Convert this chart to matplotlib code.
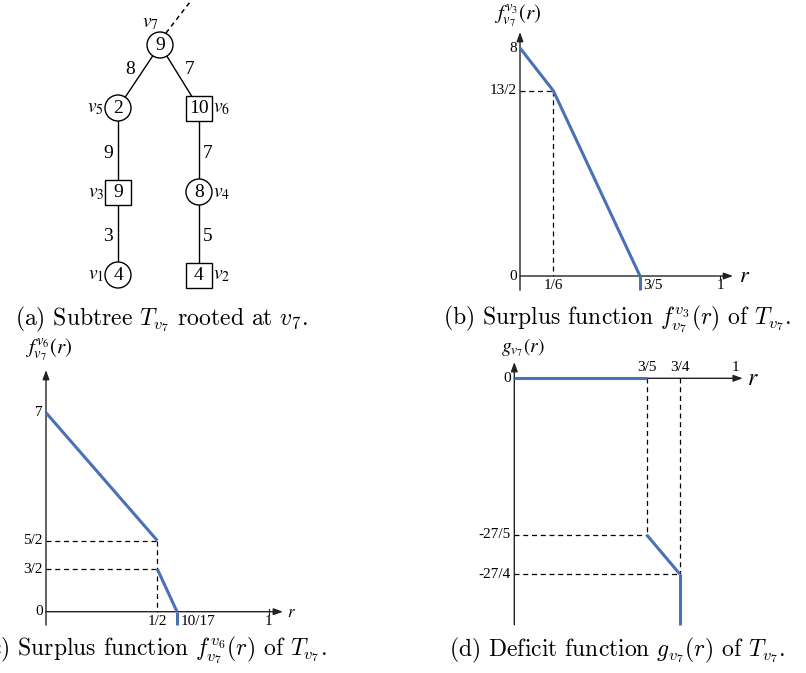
import matplotlib
matplotlib.use("Agg")
import matplotlib.pyplot as plt
from matplotlib.patches import Circle, Rectangle

W, H = 806, 673
fig = plt.figure(figsize=(W / 100, H / 100), dpi=100)

BLUE = "#4a70b5"
TICK_FONT = dict(family="Liberation Serif", fontsize=11)

# ---------------- data ----------------
# tree (a)
node_names = ["v7", "v5", "v6", "v3", "v4", "v1", "v2"]
node_values = [9, 2, 10, 9, 8, 4, 4]
node_shapes = ["circle", "circle", "square", "square", "circle", "circle", "square"]
edges = [("v7", "v5"), ("v7", "v6"), ("v5", "v3"), ("v6", "v4"), ("v3", "v1"), ("v4", "v2")]
edge_weights = [8, 7, 9, 7, 3, 5]

# (b) surplus function f^{v3}_{v7}
b_x = [0, 1 / 6, 3 / 5]
b_y = [8, 13 / 2, 0]
b_yticks = [8, 13 / 2, 0]
b_yticklabels = ["8", "13/2", "0"]
b_xticks = [1 / 6, 3 / 5, 1]
b_xticklabels = ["1/6", "3/5", "1"]

# (c) surplus function f^{v6}_{v7}
c_x1 = [0, 1 / 2]
c_y1 = [7, 5 / 2]
c_x2 = [1 / 2, 10 / 17]
c_y2 = [3 / 2, 0]
c_yticks = [7, 5 / 2, 3 / 2, 0]
c_yticklabels = ["7", "5/2", "3/2", "0"]
c_xticks = [1 / 2, 10 / 17, 1]
c_xticklabels = ["1/2", "10/17", "1"]

# (d) deficit function g_{v7}
d_x1 = [0, 3 / 5]
d_y1 = [0, 0]
d_x2 = [3 / 5, 3 / 4]
d_y2 = [-27 / 5, -27 / 4]
d_yticks = [0, -27 / 5, -27 / 4]
d_yticklabels = ["0", "-27/5", "-27/4"]
d_xticks = [3 / 5, 3 / 4, 1]
d_xticklabels = ["3/5", "3/4", "1"]


# ---------------- helpers ----------------
def data_axes(box, origin, scale):
    l, t, r, b = box
    ax = fig.add_axes([l / W, 1 - b / H, (r - l) / W, (b - t) / H])
    ox, oy = origin
    sx, sy = scale
    ax.set_xlim((l - ox) / sx, (r - ox) / sx)
    ax.set_ylim((oy - b) / sy, (oy - t) / sy)
    ax.axis("off")
    return ax


def arrow(ax, start, end):
    ax.annotate("", xy=end, xytext=start,
                arrowprops=dict(arrowstyle="-|>,head_length=0.55,head_width=0.2",
                                lw=1.0, color="#222222", shrinkA=0, shrinkB=0))


def dashed(ax, xs, ys):
    ax.plot(xs, ys, color="black", lw=0.9, ls=(0, (4, 3)), zorder=2)


def caption(x, y, s):
    fig.text(x / W, 1 - y / H, s, ha="center", va="center", fontsize=17,
             family="cmr10", math_fontfamily="cm")


# ---------------- (a) tree ----------------
axt = fig.add_axes([0, 1 - 330 / H, 400 / W, 330 / H])
axt.set_xlim(0, 400)
axt.set_ylim(330, 0)
axt.axis("off")

pos = {"v7": (160, 45), "v5": (118, 108), "v6": (199, 108), "v3": (118, 192),
       "v4": (199, 192), "v1": (118, 275), "v2": (199, 275)}
side = {"v7": "top", "v5": "left", "v6": "right", "v3": "left", "v4": "right",
        "v1": "left", "v2": "right"}

for (a, b), w in zip(edges, edge_weights):
    (x1, y1), (x2, y2) = pos[a], pos[b]
    axt.plot([x1, x2], [y1, y2], color="black", lw=1.0, zorder=1)
    mx, my = (x1 + x2) / 2, (y1 + y2) / 2
    if x1 == x2:
        dx = -10 if side[b] == "left" else 9
        dy = 3
    else:
        dx = -9 if side[b] == "left" else 10
        dy = -7
    axt.text(mx + dx, my + dy, str(w), ha="center", va="center",
             family="Liberation Serif", fontsize=14)

# dashed link to parent
axt.plot([166, 190], [33, 2], color="black", lw=1.1, ls=(0, (3, 2.5)), zorder=1)

for name, val, shp in zip(node_names, node_values, node_shapes):
    x, y = pos[name]
    if shp == "circle":
        p = Circle((x, y), 13, facecolor="white", edgecolor="black", lw=1.0, zorder=3)
    else:
        p = Rectangle((x - 13, y - 12.5), 26, 25, facecolor="white", edgecolor="black",
                      lw=1.0, zorder=3)
    axt.add_patch(p)
    axt.text(x, y + 0.5, str(val), ha="center", va="center", family="Liberation Serif",
             fontsize=14, zorder=4)
    sub = name[1:]
    lab = r"$v_{%s}$" % sub
    if side[name] == "left":
        axt.text(x - 14, y, lab, ha="right", va="center", fontsize=14,
                 math_fontfamily="stix")
    elif side[name] == "right":
        axt.text(x + 14, y, lab, ha="left", va="center", fontsize=14,
                 math_fontfamily="stix")
    else:
        axt.text(x - 10, y - 22, lab, ha="center", va="center", fontsize=14,
                 math_fontfamily="stix")

caption(161, 319, r"(a) Subtree $T_{v_7}$ rooted at $v_7$.")

# ---------------- (b) ----------------
axb = data_axes((440, 0, 806, 300), (520, 276), (200, 28.5))
arrow(axb, (0, -0.5), (0, 8.56))
arrow(axb, (0, 0), (1.065, 0))
dashed(axb, [0, b_x[1]], [b_y[1], b_y[1]])
dashed(axb, [b_x[1], b_x[1]], [b_y[1], 0])
axb.plot(b_x, b_y, color=BLUE, lw=2.2, solid_capstyle="butt", zorder=3)
axb.plot([b_x[-1], b_x[-1]], [0, -0.5], color=BLUE, lw=2.2, solid_capstyle="butt", zorder=3)
for v, s in zip(b_yticks, b_yticklabels):
    axb.annotate(s, (0, v), xytext=(-2.5, 0), textcoords="offset points",
                 ha="right", va="center", **TICK_FONT)
for v, s in zip(b_xticks, b_xticklabels):
    if s == "3/5":
        axb.annotate(s, (v, 0), xytext=(2.5, -2.5), textcoords="offset points",
                     ha="left", va="top", **TICK_FONT)
    else:
        axb.annotate(s, (v, 0), xytext=(0, -2.5), textcoords="offset points",
                     ha="center", va="top", **TICK_FONT)
axb.plot([1, 1], [0, -0.1], color="#222222", lw=0.8)
axb.annotate(r"$r$", (1.065, 0), xytext=(4, 0), textcoords="offset points",
             ha="left", va="center", fontsize=16, math_fontfamily="stix")
axb.annotate(r"$f_{v_7}^{v_3}(r)$", (0, 8.56), xytext=(-2, 2), textcoords="offset points",
             ha="center", va="bottom", fontsize=15, math_fontfamily="stix")
caption(617, 319, r"(b) Surplus function $f_{v_7}^{v_3}(r)$ of $T_{v_7}$.")

# ---------------- (c) ----------------
axc = data_axes((0, 335, 400, 635), (46, 611.7), (222.7, 28.43))
arrow(axc, (0, -0.47), (0, 8.5))
arrow(axc, (0, 0), (1.064, 0))
dashed(axc, [0, c_x1[1]], [c_y1[1], c_y1[1]])
dashed(axc, [0, c_x2[0]], [c_y2[0], c_y2[0]])
dashed(axc, [c_x1[1], c_x1[1]], [c_y1[1], 0])
axc.plot(c_x1, c_y1, color=BLUE, lw=2.2, solid_capstyle="butt", zorder=3)
axc.plot(c_x2, c_y2, color=BLUE, lw=2.2, solid_capstyle="butt", zorder=3)
axc.plot([c_x2[-1], c_x2[-1]], [0, -0.47], color=BLUE, lw=2.2, solid_capstyle="butt", zorder=3)
for v, s in zip(c_yticks, c_yticklabels):
    axc.annotate(s, (0, v), xytext=(-2.5, 0), textcoords="offset points",
                 ha="right", va="center", **TICK_FONT)
for v, s in zip(c_xticks, c_xticklabels):
    if s == "10/17":
        axc.annotate(s, (v, 0), xytext=(3, -2.5), textcoords="offset points",
                     ha="left", va="top", **TICK_FONT)
    else:
        axc.annotate(s, (v, 0), xytext=(0, -2.5), textcoords="offset points",
                     ha="center", va="top", **TICK_FONT)
axc.plot([1, 1], [0.1, -0.1], color="#222222", lw=0.8)
axc.annotate(r"$r$", (1.064, 0), xytext=(3, 0), textcoords="offset points",
             ha="left", va="center", fontsize=12, math_fontfamily="stix")
axc.annotate(r"$f_{v_7}^{v_6}(r)$", (0, 8.5), xytext=(2, 5), textcoords="offset points",
             ha="center", va="bottom", fontsize=15, math_fontfamily="stix")
caption(154, 650, r"(c) Surplus function $f_{v_7}^{v_6}(r)$ of $T_{v_7}$.")

# ---------------- (d) ----------------
axd = data_axes((440, 335, 806, 635), (514.3, 378.3), (220.7, 29.0))
arrow(axd, (0, -8.5), (0, 0.56))
arrow(axd, (0, 0), (1.035, 0))
dashed(axd, [d_x2[0], d_x2[0]], [0, d_y2[0]])
dashed(axd, [0, d_x2[0]], [d_y2[0], d_y2[0]])
dashed(axd, [d_x2[1], d_x2[1]], [0, d_y2[1]])
dashed(axd, [0, d_x2[1]], [d_y2[1], d_y2[1]])
axd.plot(d_x1, d_y1, color=BLUE, lw=2.2, solid_capstyle="butt", zorder=3)
axd.plot(d_x2, d_y2, color=BLUE, lw=2.2, solid_capstyle="butt", zorder=3)
axd.plot([d_x2[1], d_x2[1]], [d_y2[1], -8.5], color=BLUE, lw=2.2, solid_capstyle="butt", zorder=3)
for v, s in zip(d_yticks, d_yticklabels):
    axd.annotate(s, (0, v), xytext=(-2.5, 0), textcoords="offset points",
                 ha="right", va="center", **TICK_FONT)
for v, s in zip(d_xticks, d_xticklabels):
    axd.annotate(s, (v, 0), xytext=(0, 3), textcoords="offset points",
                 ha="center", va="bottom", **TICK_FONT)
axd.annotate(r"$r$", (1.035, 0), xytext=(3, 0), textcoords="offset points",
             ha="left", va="center", fontsize=17, math_fontfamily="stix")
axd.annotate(r"$g_{v_7}(r)$", (0, 0.56), xytext=(6, 2), textcoords="offset points",
             ha="center", va="bottom", fontsize=14, math_fontfamily="stix")
caption(617, 650, r"(d) Deficit function $g_{v_7}(r)$ of $T_{v_7}$.")

fig.savefig("out.png", dpi=100)
